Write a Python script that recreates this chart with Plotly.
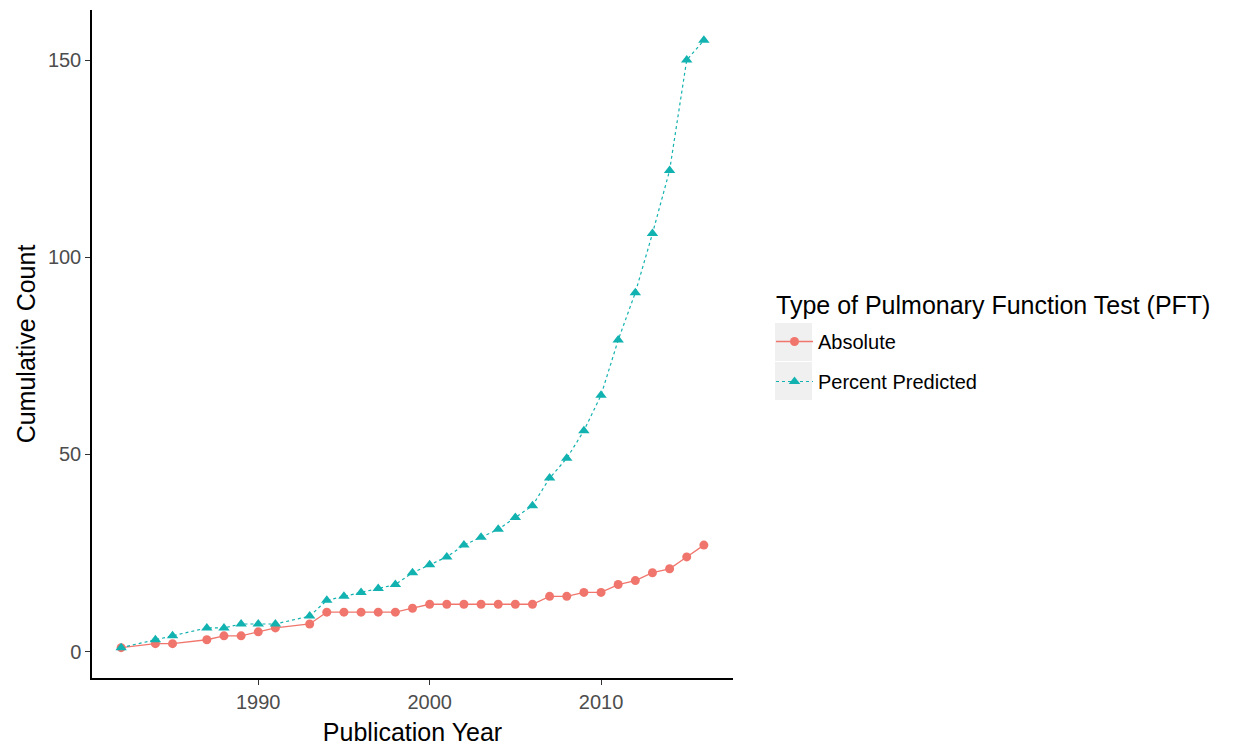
import plotly.graph_objects as go

years_abs = [1982, 1984, 1985, 1987, 1988, 1989, 1990, 1991, 1993, 1994, 1995, 1996, 1997,
             1998, 1999, 2000, 2001, 2002, 2003, 2004, 2005, 2006, 2007, 2008, 2009, 2010,
             2011, 2012, 2013, 2014, 2015, 2016]
absolute = [1, 2, 2, 3, 4, 4, 5, 6, 7, 10, 10, 10, 10,
            10, 11, 12, 12, 12, 12, 12, 12, 12, 14, 14, 15, 15,
            17, 18, 20, 21, 24, 27]

years_pct = years_abs
percent_predicted = [1, 3, 4, 6, 6, 7, 7, 7, 9, 13, 14, 15, 16,
                     17, 20, 22, 24, 27, 29, 31, 34, 37, 44, 49, 56, 65,
                     79, 91, 106, 122, 150, 155]

x_ticks = [1990, 2000, 2010]
y_ticks = [0, 50, 100, 150]

legend_title = "Type of Pulmonary Function Test (PFT)"

RED = "#F0766D"
TEAL = "#12B2B0"
FONT = "Liberation Sans, Arial, sans-serif"

# page body adds an 8px offset; work in screenshot pixels and convert
OFF = 8
W, H = 1235 - OFF, 752 - OFF
L, T = 92 - OFF, 10 - OFF
pw, ph = 641, 668
R = W - L - pw
B = H - T - ph


def px_x(p):
    return (p - OFF - L) / pw


def px_y(p):
    return 1 - (p - OFF - T) / ph


fig = go.Figure()
fig.add_trace(go.Scatter(
    x=years_abs, y=absolute, name="Absolute", mode="lines+markers",
    line=dict(color=RED, width=1.3),
    marker=dict(symbol="circle", size=9, color=RED),
    legendgroup="a",
))
fig.add_trace(go.Scatter(
    x=years_pct, y=percent_predicted, name="Percent Predicted", mode="lines+markers",
    line=dict(color=TEAL, width=1.2, dash="3px,3px"),
    marker=dict(symbol="triangle-up", size=10, color=TEAL),
    legendgroup="b",
))

shapes = []
for top, bot in [(323, 361), (362, 400)]:
    shapes.append(dict(type="rect", xref="paper", yref="paper",
                       x0=px_x(775), x1=px_x(812), y0=px_y(bot), y1=px_y(top),
                       fillcolor="#F0F0F0", line=dict(width=0), layer="below"))

fig.update_layout(
    width=W, height=H,
    margin=dict(l=L, r=R, t=T, b=B, autoexpand=False),
    paper_bgcolor="white", plot_bgcolor="white",
    font=dict(family=FONT, color="black"),
    shapes=shapes,
    annotations=[dict(
        text=legend_title, xref="paper", yref="paper",
        x=px_x(774), y=px_y(305), xanchor="left", yanchor="middle",
        showarrow=False, font=dict(size=25, family=FONT, color="black"),
    )],
    xaxis=dict(
        range=[1980.3, 2017.7], tickvals=x_ticks, ticks="outside", ticklen=5,
        tickcolor="#333333", tickwidth=1.2, automargin=False,
        tickfont=dict(size=20, color="#4D4D4D", family=FONT),
        showline=True, linecolor="black", linewidth=1.5, showgrid=False, zeroline=False,
        title=dict(text="Publication Year", font=dict(size=25, family=FONT), standoff=12),
    ),
    yaxis=dict(
        range=[-6.7, 162.7], tickvals=y_ticks, ticks="outside", ticklen=5,
        tickcolor="#333333", tickwidth=1.2, automargin=False,
        tickfont=dict(size=20, color="#4D4D4D", family=FONT),
        showline=True, linecolor="black", linewidth=1.5, showgrid=False, zeroline=False,
        title=dict(text="Cumulative Count", font=dict(size=25, family=FONT), standoff=5),
    ),
    legend=dict(
        x=px_x(771), y=px_y(322), xanchor="left", yanchor="top",
        font=dict(size=20, family=FONT), bgcolor="rgba(0,0,0,0)",
        tracegroupgap=11, itemwidth=37,
    ),
    showlegend=True,
)

fig.write_html("out.html")
